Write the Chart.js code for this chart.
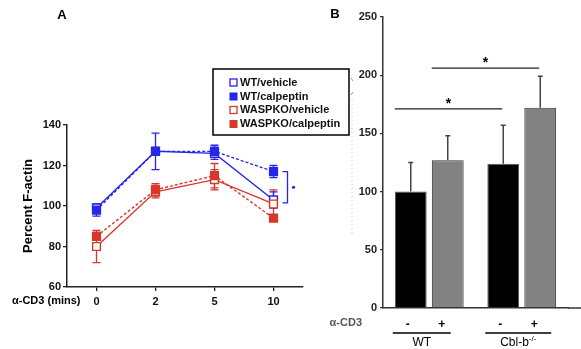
<!DOCTYPE html>
<html>
<head>
<meta charset="utf-8">
<script src="https://cdn.jsdelivr.net/npm/chart.js@4.4.1/dist/chart.umd.min.js"></script>
<style>
  html, body { margin: 0; padding: 0; background: #fff; width: 581px; height: 349px; overflow: hidden; }
  #wrapA { position: absolute; left: 0; top: 0; width: 360px; height: 349px; }
  #wrapB { position: absolute; left: 300px; top: 0; width: 281px; height: 349px; }
</style>
</head>
<body>
<div id="wrapA"><canvas id="chartA"></canvas></div>
<div id="wrapB"><canvas id="chartB"></canvas></div>
<script>
// Panel A: percent F-actin over time
const timeLabels = ['0', '2', '5', '10'];
const wtVehicle = [99, 127, 126, 103];
const wtVehicleErr = [2, 9, 3, 4];
const wtCalpeptin = [98, 127, 127, 117];
const wtCalpeptinErr = [3, 2, 3, 3];
const waspVehicle = [80, 107, 113, 101];
const waspVehicleErr = [8, 3, 5, 7];
const waspCalpeptin = [85, 108, 115, 94];
const waspCalpeptinErr = [2, 3, 6, 1];
const yTicksA = [60, 80, 100, 120, 140];

// Panel B: bars
const groupLabels = ['WT', 'Cbl-b'];
const noStim = [100, 124];
const noStimErr = [25, 33];
const withStim = [127, 172];
const withStimErr = [21, 27];
const yTicksB = [0, 50, 100, 150, 200, 250];
const sigPairs = [[0, 2], [1, 3]];
const sigLevels = [171, 206];

Chart.defaults.font.family = '"Liberation Sans", Arial, sans-serif';
Chart.defaults.color = '#111';

const BLUE = '#2626e6';
const RED = '#d8372b';

// symmetric error bars for panel A, drawn under the markers
const errorBarsA = {
  id: 'errorBarsA',
  beforeDatasetsDraw(chart) {
    const ctx = chart.ctx;
    const y = chart.scales.y;
    chart.data.datasets.forEach((ds, i) => {
      const meta = chart.getDatasetMeta(i);
      ctx.save();
      ctx.strokeStyle = ds.borderColor;
      ctx.lineWidth = 1.3;
      meta.data.forEach((pt, j) => {
        const e = ds.errors[j];
        const top = y.getPixelForValue(ds.data[j] + e);
        const bot = y.getPixelForValue(ds.data[j] - e);
        ctx.beginPath();
        ctx.moveTo(pt.x, top); ctx.lineTo(pt.x, bot);
        ctx.moveTo(pt.x - 4, top); ctx.lineTo(pt.x + 4, top);
        ctx.moveTo(pt.x - 4, bot); ctx.lineTo(pt.x + 4, bot);
        ctx.stroke();
      });
      ctx.restore();
    });
  }
};

const extrasA = {
  id: 'extrasA',
  afterDraw(chart) {
    const ctx = chart.ctx;
    const y = chart.scales.y;
    const x = chart.scales.x;
    ctx.save();
    // panel letter
    ctx.fillStyle = '#000';
    ctx.font = 'bold 13px "Liberation Sans", Arial';
    ctx.textAlign = 'center';
    ctx.textBaseline = 'middle';
    ctx.fillText('A', 62, 15);
    // y title
    ctx.save();
    ctx.translate(28, 206);
    ctx.rotate(-Math.PI / 2);
    ctx.font = 'bold 13px "Liberation Sans", Arial';
    ctx.fillText('Percent F-actin', 0, 0);
    ctx.restore();
    // x label
    ctx.font = 'bold 11px "Liberation Sans", Arial';
    ctx.textAlign = 'left';
    ctx.fillText('\u03b1-CD3 (mins)', 12, 301);

    // significance bracket at 10 min
    const xs = x.getPixelForValue(3);
    const t = y.getPixelForValue(wtCalpeptin[3]);
    const b = y.getPixelForValue(wtVehicle[3] - 1.5);
    ctx.strokeStyle = BLUE;
    ctx.lineWidth = 1.3;
    ctx.beginPath();
    ctx.moveTo(xs + 9, t); ctx.lineTo(xs + 14, t); ctx.lineTo(xs + 14, b); ctx.lineTo(xs + 9, b);
    ctx.stroke();
    ctx.fillStyle = BLUE;
    ctx.beginPath();
    ctx.arc(xs + 20, (t + b) / 2, 1.6, 0, Math.PI * 2);
    ctx.fill();

    // legend box (datasets are stored bottom-to-top, so read them backwards)
    ctx.strokeStyle = '#000';
    ctx.lineWidth = 1.5;
    ctx.strokeRect(213, 69, 136, 66);
    ctx.font = 'bold 11px "Liberation Sans", Arial';
    ctx.textAlign = 'left';
    ctx.textBaseline = 'middle';
    const rows = [82.5, 96.5, 110, 124];
    const legendSets = chart.data.datasets.slice().reverse();
    legendSets.forEach((ds, i) => {
      const ry = rows[i];
      if (ds.pointBackgroundColor === '#fff') {
        ctx.fillStyle = '#fff';
        ctx.fillRect(230, ry - 3.5, 7, 7);
        ctx.strokeStyle = ds.borderColor;
        ctx.lineWidth = 1.3;
        ctx.strokeRect(230, ry - 3.5, 7, 7);
      } else {
        ctx.fillStyle = ds.borderColor;
        ctx.fillRect(229.5, ry - 4, 8, 8);
      }
      ctx.fillStyle = '#111';
      ctx.fillText(ds.label, 240, ry);
    });

    // faint dotted line by the legend
    ctx.strokeStyle = '#c4c4c4';
    ctx.lineWidth = 1;
    ctx.setLineDash([1, 3]);
    ctx.beginPath();
    ctx.moveTo(352, 100); ctx.lineTo(352, 235);
    ctx.stroke();
    ctx.setLineDash([]);
    ctx.strokeStyle = '#999';
    ctx.beginPath();
    ctx.moveTo(351, 78); ctx.lineTo(353, 81);
    ctx.moveTo(353, 92); ctx.lineTo(351, 95);
    ctx.stroke();
    ctx.restore();
  }
};

function lineSet(label, data, errors, color, filled, dashed) {
  return {
    label, data, errors,
    borderColor: color,
    backgroundColor: color,
    pointBackgroundColor: filled ? color : '#fff',
    pointBorderColor: color,
    pointBorderWidth: 1.4,
    pointStyle: 'rect',
    pointRadius: 5.5,
    borderWidth: 1.4,
    borderDash: dashed ? [3, 2] : [],
    tension: 0
  };
}

new Chart(document.getElementById('chartA'), {
  type: 'line',
  data: {
    labels: timeLabels,
    datasets: [
      lineSet('WT/vehicle', wtVehicle, wtVehicleErr, BLUE, false, false),
      lineSet('WT/calpeptin', wtCalpeptin, wtCalpeptinErr, BLUE, true, true),
      lineSet('WASPKO/vehicle', waspVehicle, waspVehicleErr, RED, false, false),
      lineSet('WASPKO/calpeptin', waspCalpeptin, waspCalpeptinErr, RED, true, true)
    ].reverse()
  },
  options: {
    responsive: true,
    maintainAspectRatio: false,
    animation: false,
    layout: { padding: { left: 0, top: 125, right: 57, bottom: 32 } },
    plugins: { legend: { display: false }, tooltip: { enabled: false } },
    scales: {
      x: {
        offset: true,
        afterFit: s => { s.height = 30; },
        grid: { display: true, drawOnChartArea: false, drawTicks: true, tickLength: 4, color: '#222', lineWidth: 1.3 },
        border: { color: '#222', width: 1.5 },
        ticks: { font: { size: 11, weight: 'bold' }, color: '#111', padding: 4 }
      },
      y: {
        min: 60, max: 140,
        afterFit: s => { s.width = 67; },
        afterBuildTicks: s => { s.ticks = yTicksA.map(v => ({ value: v })); },
        grid: { display: true, drawOnChartArea: false, drawTicks: true, tickLength: 4, color: '#222', lineWidth: 1.3 },
        border: { color: '#222', width: 1.5 },
        ticks: { font: { size: 11, weight: 'bold' }, color: '#111', padding: 2 }
      }
    }
  },
  plugins: [errorBarsA, extrasA]
});

// upward-only error bars for panel B
const errorBarsB = {
  id: 'errorBarsB',
  beforeDatasetsDraw(chart) {
    const ctx = chart.ctx;
    const y = chart.scales.y;
    ctx.save();
    ctx.strokeStyle = '#444';
    ctx.lineWidth = 1.5;
    chart.data.datasets.forEach((ds, i) => {
      chart.getDatasetMeta(i).data.forEach((bar, j) => {
        const top = y.getPixelForValue(ds.data[j] + ds.errors[j]);
        ctx.beginPath();
        ctx.moveTo(bar.x, bar.y); ctx.lineTo(bar.x, top);
        ctx.moveTo(bar.x - 2.5, top); ctx.lineTo(bar.x + 2.5, top);
        ctx.stroke();
      });
    });
    ctx.restore();
  }
};

const extrasB = {
  id: 'extrasB',
  afterDraw(chart) {
    const ctx = chart.ctx;
    const area = chart.chartArea;
    const y = chart.scales.y;
    const bars = [];
    chart.data.labels.forEach((_, j) => {
      chart.data.datasets.forEach((ds, i) => bars.push(chart.getDatasetMeta(i).data[j]));
    });
    ctx.save();
    // extend baseline to the right
    ctx.strokeStyle = '#333';
    ctx.lineWidth = 1.5;
    ctx.beginPath();
    ctx.moveTo(area.right, area.bottom); ctx.lineTo(281, area.bottom);
    ctx.stroke();

    ctx.fillStyle = '#000';
    ctx.font = 'bold 13px "Liberation Sans", Arial';
    ctx.textAlign = 'center';
    ctx.textBaseline = 'middle';
    ctx.fillText('B', 35, 14);

    // significance lines
    ctx.lineWidth = 1.3;
    ctx.strokeStyle = '#222';
    sigPairs.forEach((p, k) => {
      const yy = y.getPixelForValue(sigLevels[k]);
      const x1 = bars[p[0]].x - 16;
      const x2 = bars[p[1]].x - 1;
      ctx.beginPath();
      ctx.moveTo(x1, yy); ctx.lineTo(x2, yy);
      ctx.stroke();
      ctx.font = 'bold 14px "Liberation Sans", Arial';
      ctx.fillText('*', (x1 + x2) / 2, yy - 5);
    });

    // stimulation signs and group labels
    const signY = 325;
    ctx.font = 'bold 12px "Liberation Sans", Arial';
    bars.forEach((b, k) => ctx.fillText(k % 2 === 0 ? '-' : '+', b.x - (k % 2 === 0 ? 3 : 6), signY));
    ctx.fillStyle = '#555';
    ctx.font = 'bold 11px "Liberation Sans", Arial';
    ctx.textAlign = 'right';
    ctx.fillText('\u03b1-CD3', 62, 323);

    ctx.fillStyle = '#000';
    ctx.lineWidth = 1.3;
    ctx.strokeStyle = '#000';
    for (let g = 0; g < 2; g++) {
      const x1 = bars[g * 2].x - 18;
      const x2 = bars[g * 2 + 1].x + 3 + g * 8;
      ctx.beginPath();
      ctx.moveTo(x1, 333); ctx.lineTo(x2, 333);
      ctx.stroke();
      const cx = (x1 + x2) / 2;
      ctx.font = '12px "Liberation Sans", Arial';
      ctx.textAlign = 'center';
      if (g === 0) {
        ctx.fillText(groupLabels[0], cx, 343);
      } else {
        const main = groupLabels[1];
        const w = ctx.measureText(main).width;
        ctx.font = '8px "Liberation Sans", Arial';
        const sw = ctx.measureText('-/-').width;
        const start = cx - (w + sw) / 2;
        ctx.textAlign = 'left';
        ctx.font = '12px "Liberation Sans", Arial';
        ctx.fillText(main, start, 343);
        ctx.font = '8px "Liberation Sans", Arial';
        ctx.fillText('-/-', start + w, 339);
      }
    }
    ctx.restore();
  }
};

new Chart(document.getElementById('chartB'), {
  type: 'bar',
  data: {
    labels: groupLabels,
    datasets: [
      { label: '-', data: noStim, errors: noStimErr, backgroundColor: '#000', borderColor: '#555', borderWidth: 1,
        categoryPercentage: 0.8, barPercentage: 0.86 },
      { label: '+', data: withStim, errors: withStimErr, backgroundColor: '#828282', borderColor: '#333', borderWidth: 1,
        categoryPercentage: 0.8, barPercentage: 0.86 }
    ]
  },
  options: {
    responsive: true,
    maintainAspectRatio: false,
    animation: false,
    layout: { padding: { left: 0, top: 17, right: 13, bottom: 41 } },
    plugins: { legend: { display: false }, tooltip: { enabled: false } },
    scales: {
      x: {
        afterFit: s => { s.height = 0; },
        grid: { display: false },
        border: { color: '#333', width: 1.5 },
        ticks: { display: false }
      },
      y: {
        min: 0, max: 250,
        afterFit: s => { s.width = 83; },
        afterBuildTicks: s => { s.ticks = yTicksB.map(v => ({ value: v })); },
        grid: { display: true, drawOnChartArea: false, drawTicks: true, tickLength: 3, color: '#333', lineWidth: 1.3 },
        border: { color: '#333', width: 1.5 },
        ticks: { font: { size: 11, weight: 'bold' }, color: '#222', padding: 3 }
      }
    }
  },
  plugins: [errorBarsB, extrasB]
});
</script>
</body>
</html>
